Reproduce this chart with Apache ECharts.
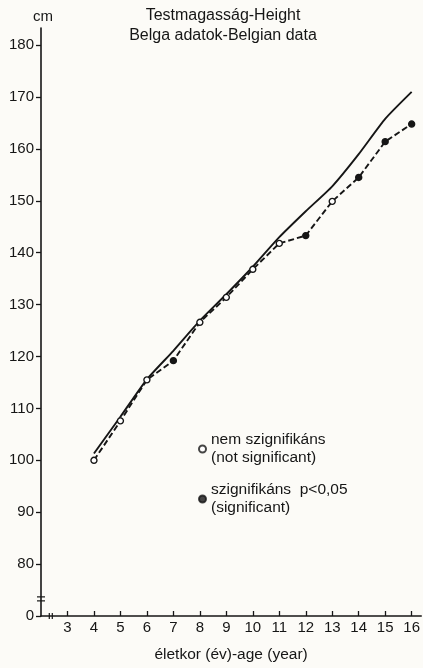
<!DOCTYPE html>
<html>
<head>
<meta charset="utf-8">
<script src="https://cdn.jsdelivr.net/npm/echarts@6/dist/echarts.min.js"></script>
<style>
html,body{margin:0;padding:0;background:#fcfbf7;}
#chart{width:423px;height:668px;}
</style>
</head>
<body>
<div id="chart"></div>
<script>
// ---- data ----
const ages = [4, 5, 6, 7, 8, 9, 10, 11, 12, 13, 14, 15, 16];
const referenceHeights = [101.3, 108.4, 115.6, 121.1, 126.9, 132.0, 137.3, 143.0, 148.0, 152.8, 159.0, 165.8, 171.0];
const belgianHeights = [100.0, 107.6, 115.5, 119.2, 126.6, 131.4, 136.8, 141.8, 143.3, 149.9, 154.5, 161.4, 164.8];
const significant = [false, false, false, true, false, false, false, false, true, false, true, true, true];
const xTickValues = [3, 4, 5, 6, 7, 8, 9, 10, 11, 12, 13, 14, 15, 16];
const yTickValues = [70, 80, 90, 100, 110, 120, 130, 140, 150, 160, 170, 180];
const yTickLabels = ['0', '80', '90', '100', '110', '120', '130', '140', '150', '160', '170', '180'];
const titleLines = ['Testmagasság-Height', 'Belga adatok-Belgian data'];
const legendNotSig = 'nem szignifikáns\n(not significant)';
const legendSig = 'szignifikáns  p<0,05\n(significant)';
const xAxisName = 'életkor (év)-age (year)';
const yAxisName = 'cm';

const ink = '#161616';
const font = 'Liberation Sans, Arial, sans-serif';

const chart = echarts.init(document.getElementById('chart'), null, {renderer: 'canvas'});

const option = {
  backgroundColor: '#fcfbf7',
  animation: false,
  textStyle: {fontFamily: font, color: ink},
  title: {
    text: titleLines.join('\n'),
    left: 218,
    top: 1,
    textAlign: 'center',
    textStyle: {fontFamily: font, fontSize: 16, fontWeight: 'normal', color: ink, lineHeight: 20, align: 'center'}
  },
  legend: {
    orient: 'vertical',
    left: 193,
    top: 426,
    itemWidth: 7,
    itemHeight: 7,
    itemGap: 14,
    icon: 'circle',
    selectedMode: false,
    textStyle: {fontFamily: font, fontSize: 15.5, color: ink, lineHeight: 18},
    data: [legendNotSig, legendSig]
  },
  grid: {left: 41, right: 0, top: 28, bottom: 49, containLabel: false},
  xAxis: {
    type: 'value',
    min: 2,
    max: 16.36,
    name: xAxisName,
    nameLocation: 'middle',
    nameGap: 31,
    nameTextStyle: {fontFamily: font, fontSize: 15.5, color: ink},
    axisLine: {lineStyle: {color: ink, width: 1.6}},
    axisTick: {inside: true, length: 5, lineStyle: {color: ink, width: 1.3}, customValues: xTickValues},
    axisLabel: {margin: 4, fontFamily: font, fontSize: 15, color: ink, customValues: xTickValues},
    splitLine: {show: false}
  },
  yAxis: {
    type: 'value',
    min: 70,
    max: 183.3,
    name: yAxisName,
    nameLocation: 'end',
    nameGap: 4,
    nameTextStyle: {fontFamily: font, fontSize: 15, color: ink, align: 'center', verticalAlign: 'bottom', padding: [0, 0, 0, 4]},
    axisLine: {show: true, lineStyle: {color: ink, width: 1.6}},
    axisTick: {show: true, inside: false, length: 5, lineStyle: {color: ink, width: 1.3}, customValues: yTickValues},
    axisLabel: {
      margin: 7,
      fontFamily: font,
      fontSize: 15,
      color: ink,
      customValues: yTickValues,
      formatter: function (v) {
        const i = yTickValues.indexOf(v);
        return i >= 0 ? yTickLabels[i] : '';
      }
    },
    splitLine: {show: false}
  },
  series: [
    {
      name: 'reference',
      type: 'line',
      data: ages.map((a, i) => [a, referenceHeights[i]]),
      showSymbol: false,
      smooth: 0.2,
      lineStyle: {color: ink, width: 1.9},
      z: 2
    },
    {
      name: 'belgian',
      type: 'line',
      data: ages.map((a, i) => ({
        value: [a, belgianHeights[i]],
        itemStyle: {color: significant[i] ? ink : '#ffffff', borderColor: ink, borderWidth: 1.4}
      })),
      symbol: 'circle',
      symbolSize: 6,
      showAllSymbol: true,
      lineStyle: {color: ink, width: 1.9, type: [6, 3]},
      z: 3
    },
    {
      name: legendNotSig,
      type: 'scatter',
      data: [],
      itemStyle: {color: '#ffffff', borderColor: ink, borderWidth: 1.4}
    },
    {
      name: legendSig,
      type: 'scatter',
      data: [],
      itemStyle: {color: ink, borderColor: ink, borderWidth: 1}
    }
  ]
};

chart.setOption(option);

// axis break markers (decoration), positioned through the chart's own scales
const yb = chart.convertToPixel({gridIndex: 0}, [2, 73.3]);
const xb = chart.convertToPixel({gridIndex: 0}, [2.37, 70]);
chart.setOption({
  graphic: [
    {type: 'line', shape: {x1: yb[0] - 4, y1: yb[1] - 2, x2: yb[0] + 4, y2: yb[1] - 2}, style: {stroke: ink, lineWidth: 1.2}},
    {type: 'line', shape: {x1: yb[0] - 4, y1: yb[1] + 2, x2: yb[0] + 4, y2: yb[1] + 2}, style: {stroke: ink, lineWidth: 1.2}},
    {type: 'line', shape: {x1: xb[0] - 1.5, y1: xb[1] - 3, x2: xb[0] - 1.5, y2: xb[1] + 3}, style: {stroke: ink, lineWidth: 1.2}},
    {type: 'line', shape: {x1: xb[0] + 1.5, y1: xb[1] - 3, x2: xb[0] + 1.5, y2: xb[1] + 3}, style: {stroke: ink, lineWidth: 1.2}}
  ]
});
</script>
</body>
</html>
